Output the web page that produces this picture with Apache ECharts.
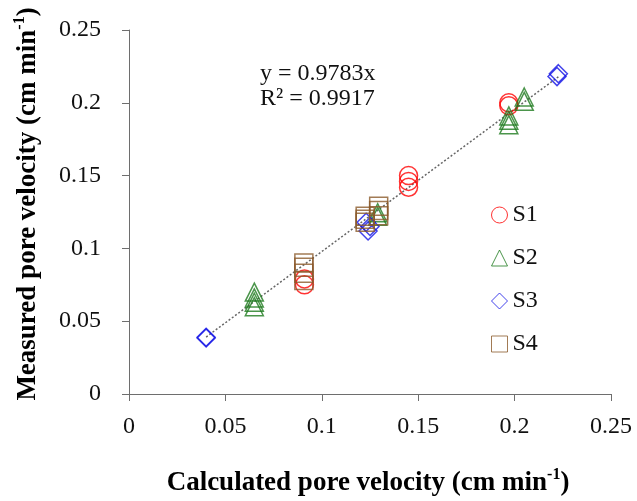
<!DOCTYPE html>
<html>
<head>
<meta charset="utf-8">
<script src="https://cdn.jsdelivr.net/npm/echarts@6/dist/echarts.min.js"></script>
<style>html,body{margin:0;padding:0;background:#fff}#c{width:637px;height:501px}</style>
</head>
<body>
<div id="c"></div>
<script>
const FONT = "'Liberation Serif','Times New Roman',serif";
const xTicks = [0, 0.05, 0.1, 0.15, 0.2, 0.25];
const yTicks = [0, 0.05, 0.1, 0.15, 0.2, 0.25];
const seriesNames = ['S1', 'S2', 'S3', 'S4'];
// [calculated, measured]
const s1 = [[0.091,0.075],[0.091,0.079],[0.145,0.142],[0.145,0.146],[0.145,0.150],[0.197,0.198],[0.197,0.200]];
const s2 = [[0.065,0.060],[0.065,0.063],[0.065,0.066],[0.065,0.070],[0.129,0.122],[0.129,0.1245],[0.197,0.185],[0.197,0.188],[0.197,0.191],[0.205,0.201],[0.205,0.204]];
const s3 = [[0.040,0.039],[0.040,0.0385],[0.124,0.112],[0.123,0.118],[0.125,0.115],[0.2227,0.220],[0.222,0.218]];
const s4 = [[0.0907,0.078],[0.0907,0.083],[0.0907,0.087],[0.0907,0.090],[0.1295,0.1225],[0.1295,0.126],[0.1295,0.129],[0.1225,0.118],[0.1225,0.120],[0.1225,0.122]];
const trendSlope = 0.9783;
const trendX = [0.04, 0.2227];
const eqLines = ['y = 0.9783x', 'R² = 0.9917'];

const colors = ['#ff0000', '#1e7b1e', '#1414e6', '#8b5a2b'];
const symbols = ['circle', 'triangle', 'diamond', 'rect'];
const datasets = [s1, s2, s3, s4];

const chart = echarts.init(document.getElementById('c'));
const scatterSeries = datasets.map((d, i) => ({
  name: seriesNames[i],
  type: 'scatter',
  data: d,
  symbol: symbols[i],
  symbolSize: 18,
  itemStyle: { color: 'rgba(0,0,0,0)', borderColor: colors[i], borderWidth: 1.5 },
  z: 3
}));

chart.setOption({
  animation: false,
  backgroundColor: '#fff',
  grid: { left: 129, right: 26, top: 30, bottom: 107, containLabel: false },
  xAxis: {
    type: 'value', min: 0, max: 0.25, interval: 0.05,
    axisLine: { lineStyle: { color: '#6e6e6e', width: 1 } },
    axisTick: { show: true, length: 7, lineStyle: { color: '#6e6e6e' } },
    splitLine: { show: false },
    axisLabel: { fontFamily: FONT, fontSize: 24, color: '#111', margin: 21,
      formatter: v => String(+v.toFixed(2)) }
  },
  yAxis: {
    type: 'value', min: 0, max: 0.25, interval: 0.05,
    axisLine: { show: true, lineStyle: { color: '#6e6e6e', width: 1 } },
    axisTick: { show: true, length: 7, lineStyle: { color: '#6e6e6e' } },
    splitLine: { show: false },
    axisLabel: { fontFamily: FONT, fontSize: 24, color: '#111', margin: 28,
      formatter: v => String(+v.toFixed(2)) }
  },
  legend: {
    data: seriesNames,
    orient: 'vertical',
    left: 486, top: 198,
    itemWidth: 16, itemHeight: 16, itemGap: 19,
    itemStyle: { borderWidth: 1 },
    textStyle: { fontFamily: FONT, fontSize: 24, color: '#111' }
  },
  series: scatterSeries.concat([{
    type: 'line',
    name: 'trend',
    data: trendX.map(x => [x, trendSlope * x]),
    symbol: 'none',
    lineStyle: { color: '#666', width: 1.5, type: [2, 2] },
    z: 2,
    silent: true
  }]),
  graphic: [
    { type: 'text', x: 260, y: 62, style: { text: eqLines[0], font: '24px ' + FONT, fill: '#111' } },
    { type: 'text', x: 260, y: 87, style: { text: eqLines[1], font: '24px ' + FONT, fill: '#111' } },
    { type: 'text', x: 368, y: 483, style: {
        text: '{b|Calculated pore velocity (cm min}{s|-1}{b|)}',
        align: 'center', verticalAlign: 'middle',
        rich: {
          b: { fontFamily: FONT, fontSize: 27, fontWeight: 'bold', lineHeight: 32, fill: '#000', color: '#000' },
          s: { fontFamily: FONT, fontSize: 16, fontWeight: 'bold', lineHeight: 18, verticalAlign: 'top', fill: '#000', color: '#000' }
        } } },
    { type: 'text', x: 28, y: 204, rotation: Math.PI / 2, style: {
        text: '{b|Measured pore velocity (cm min}{s|-1}{b|)}',
        align: 'center', verticalAlign: 'middle',
        rich: {
          b: { fontFamily: FONT, fontSize: 27, fontWeight: 'bold', lineHeight: 32, fill: '#000', color: '#000' },
          s: { fontFamily: FONT, fontSize: 16, fontWeight: 'bold', lineHeight: 18, verticalAlign: 'top', fill: '#000', color: '#000' }
        } } }
  ]
});
</script>
</body>
</html>
